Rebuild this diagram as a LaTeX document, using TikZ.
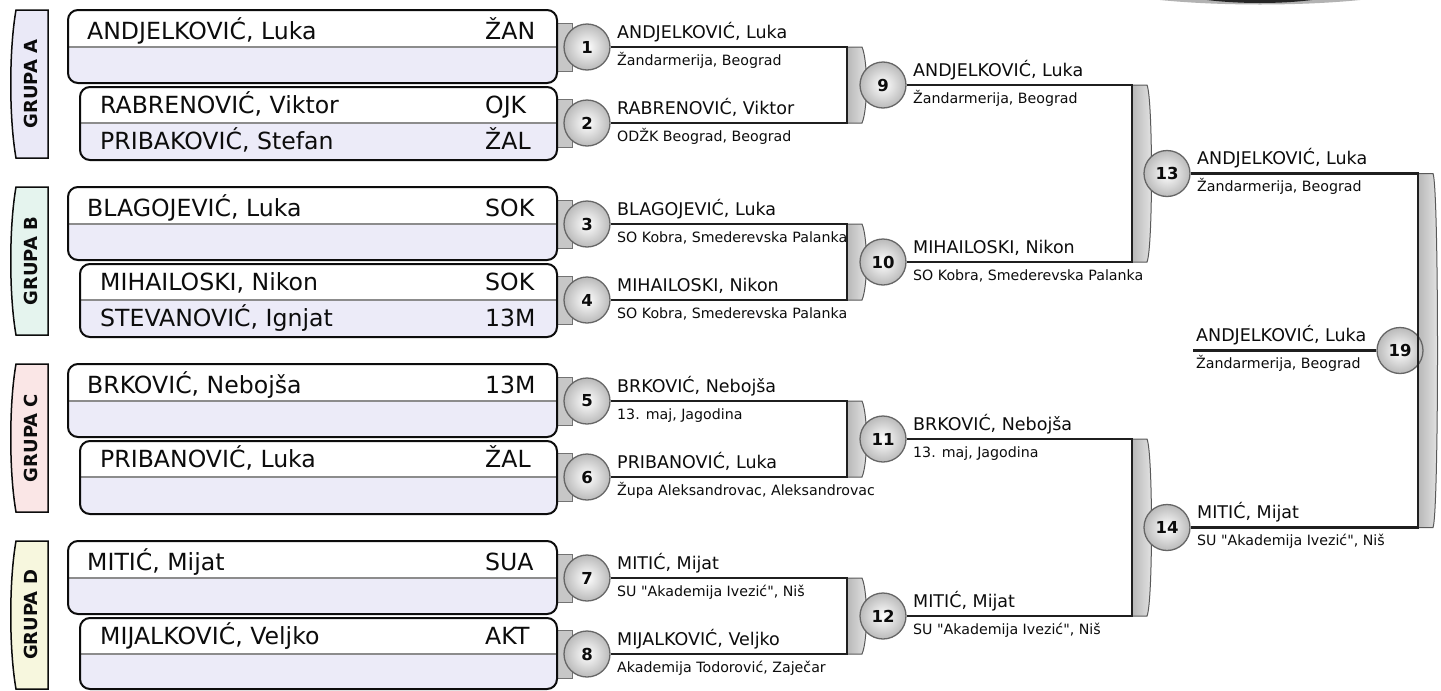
\documentclass[tikz,border=0pt]{standalone}
\usepackage{fontspec}
\setmainfont{DejaVu Sans}[Ligatures=TeXOff]
\definecolor{lav}{RGB}{236,235,248}
\definecolor{grpA}{RGB}{234,233,247}
\definecolor{grpB}{RGB}{229,244,238}
\definecolor{grpC}{RGB}{250,230,230}
\definecolor{grpD}{RGB}{247,247,222}
\definecolor{ink}{RGB}{12,12,12}
\newcommand{\PBox}[4]{%
  \begin{scope}
    \clip[rounded corners=10pt] (#1,#2) rectangle (557,#3);
    \fill[lav] (#1,#2) rectangle (557,#3);
    \fill[white] (#1,#2) rectangle (557,#4);
  \end{scope}
  \draw[divline] (#1,#4) -- (557,#4);
  \draw[boxline] (#1,#2) rectangle (557,#3);
}
\newcommand{\GTab}[1]{\filldraw[tabstyle] (550,#1-24) rectangle (572,#1+24);}
\newcommand{\Brk}[3]{\draw[brkstyle] (#1,#2) -- (#1+15,#2) .. controls (#1+21,#2+14) and (#1+21,#3-14) .. (#1+15,#3) -- (#1,#3) -- cycle;}
\newcommand{\GLabel}[4]{%
  \filldraw[fill=#2, draw=ink, line width=1.5pt] (48,#1) -- (16,#1) .. controls (9,#1+40) and (9,#1+108) .. (16,#1+148) -- (48,#1+148) -- cycle;
  \node[grplbl] (#4) at (31,#1+74) {#3};}
\newcommand{\Match}[5]{%
  \node[mc] (c#1) at (#2,#3) {#1};
  \node[nm] (n#1) at (#2+30,#3-9) {#4};
  \node[cl] (k#1) at (#2+30,#3+18) {#5};}
\begin{document}
\begin{tikzpicture}[x=1pt,y=-1pt,
  boxline/.style={draw=ink, line width=2pt, rounded corners=10pt},
  divline/.style={draw=black!45, line width=1.2pt},
  tabstyle/.style={fill=black!22, draw=black!55, line width=1pt},
  brkstyle/.style={left color=black!28, right color=black!10, draw=black!65, line width=1pt},
  wire/.style={draw=black!88, line width=2.2pt},
  mc/.style={circle, minimum size=46pt, inner sep=0pt, draw=black!60, line width=1.3pt, inner color=white, outer color=black!27, font=\bfseries\fontsize{16.5}{16.5}\selectfont, text=ink},
  nm/.style={anchor=base west, inner sep=0pt, font=\fontsize{17.5}{20}\selectfont, text=ink},
  cl/.style={anchor=base west, inner sep=0pt, font=\fontsize{14.2}{17}\selectfont, text=ink},
  bx/.style={anchor=base west, inner sep=0pt, font=\fontsize{23.6}{27}\selectfont, text=ink},
  grplbl/.style={rotate=90, inner sep=0pt, font=\bfseries\fontsize{18}{20}\selectfont, text=ink}
]
\useasboundingbox (0,0) rectangle (1441,691);
\fill[white] (0,0) rectangle (1441,691);
\fill[black!30] (1160,0) .. controls (1220,6) and (1300,6) .. (1360,0) -- cycle;
\fill[black!85] (1207,0) .. controls (1240,4) and (1280,4) .. (1312,0) -- cycle;

% group labels
\GLabel{10}{grpA}{GRUPA A}{gA}
\GLabel{187}{grpB}{GRUPA B}{gB}
\GLabel{364}{grpC}{GRUPA C}{gC}
\GLabel{541}{grpD}{GRUPA D}{gD}

% tabs
\GTab{47}\GTab{123}\GTab{224}\GTab{300}\GTab{401}\GTab{477}\GTab{578}\GTab{654}

% player boxes
\PBox{68}{10}{83}{47}
\PBox{80}{87}{160}{123}
\PBox{68}{187}{260}{224}
\PBox{80}{264}{337}{300}
\PBox{68}{364}{437}{401}
\PBox{80}{441}{514}{477}
\PBox{68}{541}{614}{578}
\PBox{80}{618}{689}{654}

\node[bx] (p1) at (87,39) {ANDJELKOVIĆ, Luka};   \node[bx] (q1) at (485,39) {ŽAN};
\node[bx] (p2) at (100,113) {RABRENOVIĆ, Viktor}; \node[bx] (q2) at (485,113) {OJK};
\node[bx] (p3) at (100,149) {PRIBAKOVIĆ, Stefan}; \node[bx] (q3) at (485,149) {ŽAL};
\node[bx] (p4) at (87,216) {BLAGOJEVIĆ, Luka};    \node[bx] (q4) at (485,216) {SOK};
\node[bx] (p5) at (100,290) {MIHAILOSKI, Nikon};  \node[bx] (q5) at (485,290) {SOK};
\node[bx] (p6) at (100,326) {STEVANOVIĆ, Ignjat}; \node[bx] (q6) at (485,326) {13M};
\node[bx] (p7) at (87,393) {BRKOVIĆ, Nebojša};    \node[bx] (q7) at (485,393) {13M};
\node[bx] (p8) at (100,467) {PRIBANOVIĆ, Luka};   \node[bx] (q8) at (485,467) {ŽAL};
\node[bx] (p9) at (87,570) {MITIĆ, Mijat};        \node[bx] (q9) at (485,570) {SUA};
\node[bx] (p10) at (100,644) {MIJALKOVIĆ, Veljko};\node[bx] (q10) at (485,644) {AKT};

% brackets
\Brk{847}{47}{123}
\Brk{847}{224}{300}
\Brk{847}{401}{477}
\Brk{847}{578}{654}
\Brk{1132}{85}{262}
\Brk{1132}{439}{616}
\Brk{1418}{173.5}{527.5}

% matches
\Match{1}{587}{47}{ANDJELKOVIĆ, Luka}{Žandarmerija, Beograd}
\Match{2}{587}{123}{RABRENOVIĆ, Viktor}{ODŽK Beograd, Beograd}
\Match{3}{587}{224}{BLAGOJEVIĆ, Luka}{SO Kobra, Smederevska Palanka}
\Match{4}{587}{300}{MIHAILOSKI, Nikon}{SO Kobra, Smederevska Palanka}
\Match{5}{587}{401}{BRKOVIĆ, Nebojša}{13. maj, Jagodina}
\Match{6}{587}{477}{PRIBANOVIĆ, Luka}{Župa Aleksandrovac, Aleksandrovac}
\Match{7}{587}{578}{MITIĆ, Mijat}{SU "Akademija Ivezić", Niš}
\Match{8}{587}{654}{MIJALKOVIĆ, Veljko}{Akademija Todorović, Zaječar}
\Match{9}{883}{85}{ANDJELKOVIĆ, Luka}{Žandarmerija, Beograd}
\Match{10}{883}{262}{MIHAILOSKI, Nikon}{SO Kobra, Smederevska Palanka}
\Match{11}{883}{439}{BRKOVIĆ, Nebojša}{13. maj, Jagodina}
\Match{12}{883}{616}{MITIĆ, Mijat}{SU "Akademija Ivezić", Niš}
\Match{13}{1167}{173.5}{ANDJELKOVIĆ, Luka}{Žandarmerija, Beograd}
\Match{14}{1167}{527.5}{MITIĆ, Mijat}{SU "Akademija Ivezić", Niš}
\node[mc] (c19) at (1400,350.5) {19};
\node[nm] (n19) at (1196,341.5) {ANDJELKOVIĆ, Luka};
\node[cl] (k19) at (1196,368.5) {Žandarmerija, Beograd};
\coordinate (e19) at (1193,350.5);

% wires
\draw[wire] (c1) -- (847,47) -- (847,123) -- (c2);
\draw[wire] (c3) -- (847,224) -- (847,300) -- (c4);
\draw[wire] (c5) -- (847,401) -- (847,477) -- (c6);
\draw[wire] (c7) -- (847,578) -- (847,654) -- (c8);
\draw[wire] (c9) -- (1132,85) -- (1132,262) -- (c10);
\draw[wire] (c11) -- (1132,439) -- (1132,616) -- (c12);
\draw[wire] (c13) -- (1418,173.5) -- (1418,527.5) -- (c14);
\draw[wire] (c19) -- (e19);
\end{tikzpicture}
\end{document}
